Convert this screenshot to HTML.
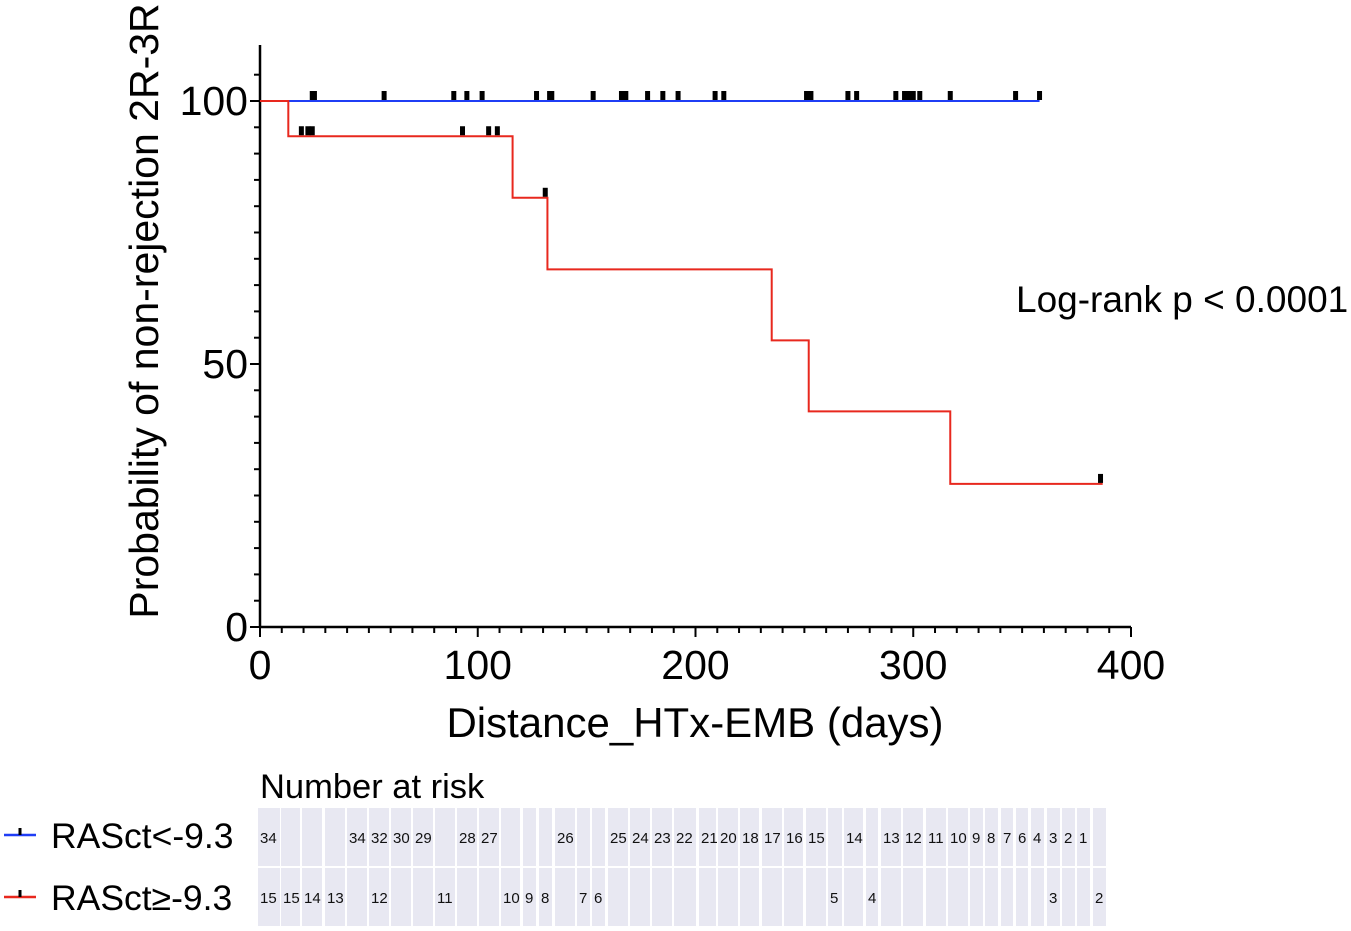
<!DOCTYPE html>
<html><head><meta charset="utf-8"><style>
body{margin:0;background:#fff;width:1351px;height:931px;overflow:hidden;font-family:"Liberation Sans",sans-serif}
svg{position:absolute;left:0;top:0}
</style></head><body>
<svg id="c" width="1351" height="931" font-family="Liberation Sans, DejaVu Sans, sans-serif"></svg>
<script>
const xTicks=[0,100,200,300,400];
const yTicks=[0,50,100];
const blueSteps=[[0,100],[358,100]];
const redSteps=[[0,100],[13,93.3],[116,81.6],[132,68],[235,54.5],[252,41],[317,27.2],[387,27.2]];
const blueCensor=[24,25,57,89,95,102,127,133,134,153,166,168,178,185,192,209,213,251,253,270,274,292,296,298,300,303,317,347,358];
const redCensor=[19,22,24,93,105,109,131,386];
const topRisk=['34','','','','34','32','30','29','','28','27','','','','26','','','25','24','23','22','21','20','18','17','16','15','','14','','13','12','11','10','9','8','7','6','4','3','2','1',''];
const botRisk=['15','15','14','13','','12','','','11','','','10','9','8','','7','6','','','','','','','','','','','5','','4','','','','','','','','','','3','','','2'];
const cellX=[258,281,302,325,347,369,391,413,435,457,479,501,523,539,555,577,592,608,630,652,674,699,718,740,762,784,806,828,844,866,881,903,926,948,970,985,1001,1016,1031,1047,1062,1077,1093];
const cellW=[22,19,20,20,20,20,20,20,20,20,20,19,13,13,20,13,13,20,20,20,22,17,20,19,20,19,20,14,19,12,20,20,20,20,13,13,12,12,13,13,13,13,13];
const X=d=>260+d*2.1775, Y=v=>627-v*5.26;
const s=document.getElementById('c');const NS='http://www.w3.org/2000/svg';
function el(t,a,txt){const e=document.createElementNS(NS,t);for(const k in a)e.setAttribute(k,a[k]);if(txt!=null)e.textContent=txt;s.appendChild(e);return e;}
let e;
e=el('line',{x1:260,y1:627,x2:1131,y2:627,stroke:'#000','stroke-width':2.5});


e=el('line',{x1:260,y1:45,x2:260,y2:627,stroke:'#000','stroke-width':2.5});


for(let d=0;d<=400;d+=10){const maj=d%100==0;el('line',{x1:X(d),y1:627,x2:X(d),y2:627+(maj?10:6),stroke:'#000','stroke-width':2});}
for(let v=0;v<=105;v+=5){const maj=v%50==0;el('line',{x1:260,y1:Y(v),x2:260-(maj?10:6),y2:Y(v),stroke:'#000','stroke-width':2});}
xTicks.forEach(t=>{e=el('text',{x:X(t),y:679,'font-size':41,'text-anchor':'middle'},t);

});
yTicks.forEach(t=>{e=el('text',{x:248,y:Y(t)+14,'font-size':41,'text-anchor':'end'},t);

});
e=el('text',{x:695,y:737,'font-size':42,'text-anchor':'middle'},'Distance_HTx-EMB (days)');


e=el('text',{x:0,y:0,'font-size':41,'text-anchor':'middle',transform:'translate(158,311) rotate(-90)'},'Probability of non-rejection 2R-3R');


function stepPath(st){let p='M'+X(st[0][0])+','+Y(st[0][1]);for(let i=1;i<st.length;i++){p+=' H'+X(st[i][0])+' V'+Y(st[i][1]);}return p;}
function valAt(st,d){let v=st[0][1];for(const p of st){if(p[0]<=d)v=p[1];}return v;}
e=el('path',{d:stepPath(blueSteps),fill:'none',stroke:'#1f3df5','stroke-width':2});


e=el('path',{d:stepPath(redSteps),fill:'none',stroke:'#e8281e','stroke-width':2});


blueCensor.forEach(d=>{e=el('rect',{x:X(d)-2.5,y:Y(valAt(blueSteps,d))-10,width:5,height:9,fill:'#000'});

});
redCensor.forEach(d=>{e=el('rect',{x:X(d)-2.5,y:Y(valAt(redSteps,d))-10,width:5,height:9,fill:'#000'});

});
e=el('text',{x:1016,y:312,'font-size':37},'Log-rank p < 0.0001');


e=el('text',{x:260,y:798,'font-size':34.5},'Number at risk');


[[topRisk,808],[botRisk,868]].forEach(([arr,y0],r)=>{arr.forEach((t,i)=>{
 e=el('rect',{x:cellX[i],y:y0,width:cellW[i],height:58,fill:'#e8e8f2'});
 
 
 if(t){e=el('text',{x:cellX[i]+2,y:y0+35,'font-size':15,fill:'#111'},t);
 
 }
});});
[['#1f3df5','RASct<-9.3',835],['#e8281e','RASct≥-9.3',897]].forEach(([c,l,y])=>{
 e=el('line',{x1:4,y1:y,x2:36,y2:y,stroke:c,'stroke-width':2.5});
 
 
 el('line',{x1:20,y1:y-7,x2:20,y2:y,stroke:'#000','stroke-width':3});
 e=el('text',{x:51,y:y+13,'font-size':35.5},l);
 
 
});
</script>
</body></html>
